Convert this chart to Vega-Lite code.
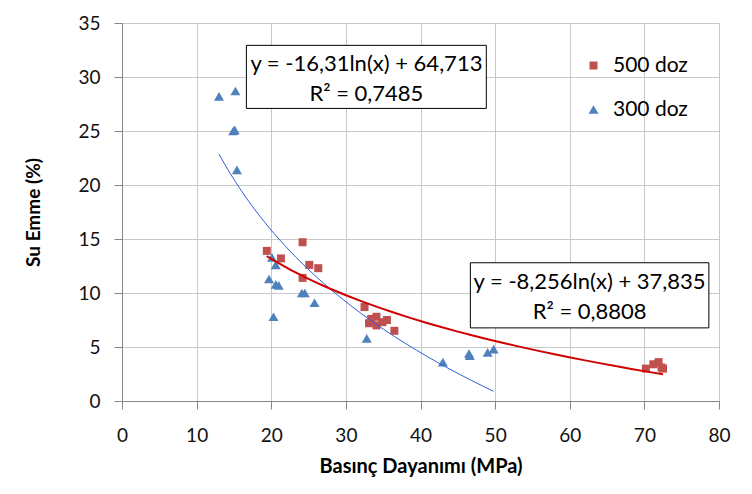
{
  "$schema": "https://vega.github.io/schema/vega-lite/v6.json",
  "width": 597,
  "height": 378,
  "autosize": "none",
  "padding": {"left": 122, "top": 23, "right": 33, "bottom": 93},
  "background": "white",
  "config": {"view": {"stroke": null}, "font": "Lato"},
  "datasets": {
    "pts": [
      {"series": "300 doz", "x": 13.0, "y": 28.2},
      {"series": "300 doz", "x": 15.2, "y": 28.7},
      {"series": "300 doz", "x": 14.9, "y": 25.0},
      {"series": "300 doz", "x": 15.1, "y": 25.1},
      {"series": "300 doz", "x": 15.4, "y": 21.4},
      {"series": "300 doz", "x": 20.1, "y": 13.3},
      {"series": "300 doz", "x": 20.6, "y": 12.6},
      {"series": "300 doz", "x": 19.7, "y": 11.3},
      {"series": "300 doz", "x": 20.6, "y": 10.8},
      {"series": "300 doz", "x": 21.0, "y": 10.7},
      {"series": "300 doz", "x": 20.3, "y": 7.8},
      {"series": "300 doz", "x": 24.1, "y": 10.0},
      {"series": "300 doz", "x": 24.5, "y": 10.0},
      {"series": "300 doz", "x": 25.8, "y": 9.1},
      {"series": "300 doz", "x": 32.8, "y": 5.8},
      {"series": "300 doz", "x": 43.0, "y": 3.6},
      {"series": "300 doz", "x": 46.5, "y": 4.4},
      {"series": "300 doz", "x": 46.6, "y": 4.2},
      {"series": "300 doz", "x": 49.0, "y": 4.5},
      {"series": "300 doz", "x": 49.8, "y": 4.8},
      {"series": "500 doz", "x": 19.4, "y": 13.9},
      {"series": "500 doz", "x": 24.2, "y": 14.7},
      {"series": "500 doz", "x": 21.3, "y": 13.2},
      {"series": "500 doz", "x": 25.1, "y": 12.6},
      {"series": "500 doz", "x": 26.3, "y": 12.3},
      {"series": "500 doz", "x": 24.2, "y": 11.4},
      {"series": "500 doz", "x": 32.5, "y": 8.7},
      {"series": "500 doz", "x": 33.1, "y": 7.2},
      {"series": "500 doz", "x": 33.4, "y": 7.6},
      {"series": "500 doz", "x": 34.1, "y": 7.8},
      {"series": "500 doz", "x": 34.1, "y": 7.0},
      {"series": "500 doz", "x": 34.9, "y": 7.3},
      {"series": "500 doz", "x": 35.5, "y": 7.5},
      {"series": "500 doz", "x": 36.5, "y": 6.5},
      {"series": "500 doz", "x": 70.2, "y": 3.0},
      {"series": "500 doz", "x": 71.2, "y": 3.4},
      {"series": "500 doz", "x": 71.9, "y": 3.6},
      {"series": "500 doz", "x": 72.5, "y": 3.0},
      {"series": "500 doz", "x": 72.3, "y": 3.1}
    ]
  },
  "data": {"name": "pts"},
  "layer": [
    {
      "mark": {"type": "point", "filled": true, "opacity": 1},
      "encoding": {
        "x": {
          "field": "x", "type": "quantitative",
          "scale": {"domain": [0, 80], "nice": false, "zero": false},
          "axis": {
            "values": [0, 10, 20, 30, 40, 50, 60, 70, 80],
            "grid": true, "gridColor": "#C8C8C8", "gridWidth": 1,
            "domainColor": "#868686", "tickColor": "#868686", "tickSize": 8,
            "labelFont": "Lato", "labelFontSize": 19, "labelColor": "#111111",
            "labelPadding": 17, "labelFlush": false, "labelOverlap": false,
            "title": "Basınç Dayanımı (MPa)", "titleFont": "Lato", "titleFontSize": 20,
            "titleFontWeight": "bold", "titleColor": "#000000", "titlePadding": 11
          }
        },
        "y": {
          "field": "y", "type": "quantitative",
          "scale": {"domain": [0, 35], "nice": false},
          "axis": {
            "values": [0, 5, 10, 15, 20, 25, 30, 35],
            "grid": true, "gridColor": "#C8C8C8", "gridWidth": 1,
            "domainColor": "#868686", "tickColor": "#868686", "tickSize": 8,
            "labelFont": "Lato", "labelFontSize": 19, "labelColor": "#111111",
            "labelPadding": 14, "labelFlush": false, "labelOverlap": false,
            "title": "Su Emme (%)", "titleFont": "Lato", "titleFontSize": 19,
            "titleFontWeight": "bold", "titleColor": "#000000", "titlePadding": 34
          }
        },
        "color": {
          "field": "series", "type": "nominal",
          "scale": {"domain": ["500 doz", "300 doz"], "range": ["#C0504D", "#4F81BD"]},
          "legend": {
            "title": null, "orient": "none", "legendX": 461, "legendY": 32, "padding": 0,
            "labelFont": "Lato", "labelFontSize": 21, "labelColor": "#000000",
            "symbolSize": 80, "symbolStrokeWidth": 0, "rowPadding": 22, "labelOffset": 9
          }
        },
        "shape": {
          "field": "series", "type": "nominal",
          "scale": {"domain": ["500 doz", "300 doz"], "range": ["square", "triangle-up"]}
        },
        "size": {
          "field": "series", "type": "ordinal",
          "scale": {"domain": ["500 doz", "300 doz"], "range": [64, 100]},
          "legend": null
        }
      }
    },
    {
      "transform": [
        {"filter": "datum.series === '300 doz'"},
        {"regression": "y", "on": "x", "method": "log"}
      ],
      "mark": {"type": "line", "color": "#2F5FD8", "strokeWidth": 1},
      "encoding": {
        "x": {"field": "x", "type": "quantitative"},
        "y": {"field": "y", "type": "quantitative"}
      }
    },
    {
      "transform": [
        {"filter": "datum.series === '500 doz'"},
        {"regression": "y", "on": "x", "method": "log"}
      ],
      "mark": {"type": "line", "color": "#D00000", "strokeWidth": 2},
      "encoding": {
        "x": {"field": "x", "type": "quantitative"},
        "y": {"field": "y", "type": "quantitative"}
      }
    },
    {
      "data": {"values": [{}]},
      "mark": {"type": "rect", "fill": "white", "stroke": "#000000", "strokeWidth": 1},
      "encoding": {
        "x": {"datum": 16.67, "type": "quantitative"},
        "x2": {"datum": 48.82},
        "y": {"datum": 32.93, "type": "quantitative"},
        "y2": {"datum": 27.09}
      }
    },
    {
      "data": {"values": [{}]},
      "mark": {"type": "text", "text": "y = -16,31ln(x) + 64,713", "font": "Lato", "fontSize": 22, "color": "#000000", "align": "center", "baseline": "middle"},
      "encoding": {
        "x": {"datum": 32.75, "type": "quantitative"},
        "y": {"datum": 31.17, "type": "quantitative"}
      }
    },
    {
      "data": {"values": [{}]},
      "mark": {"type": "text", "text": "R² = 0,7485", "font": "Lato", "fontSize": 22, "color": "#000000", "align": "center", "baseline": "middle"},
      "encoding": {
        "x": {"datum": 32.75, "type": "quantitative"},
        "y": {"datum": 28.39, "type": "quantitative"}
      }
    },
    {
      "data": {"values": [{}]},
      "mark": {"type": "rect", "fill": "white", "stroke": "#000000", "strokeWidth": 1},
      "encoding": {
        "x": {"datum": 46.68, "type": "quantitative"},
        "x2": {"datum": 78.64},
        "y": {"datum": 12.8, "type": "quantitative"},
        "y2": {"datum": 6.77}
      }
    },
    {
      "data": {"values": [{}]},
      "mark": {"type": "text", "text": "y = -8,256ln(x) + 37,835", "font": "Lato", "fontSize": 22, "color": "#000000", "align": "center", "baseline": "middle"},
      "encoding": {
        "x": {"datum": 62.66, "type": "quantitative"},
        "y": {"datum": 11.04, "type": "quantitative"}
      }
    },
    {
      "data": {"values": [{}]},
      "mark": {"type": "text", "text": "R² = 0,8808", "font": "Lato", "fontSize": 22, "color": "#000000", "align": "center", "baseline": "middle"},
      "encoding": {
        "x": {"datum": 62.66, "type": "quantitative"},
        "y": {"datum": 8.26, "type": "quantitative"}
      }
    }
  ]
}
